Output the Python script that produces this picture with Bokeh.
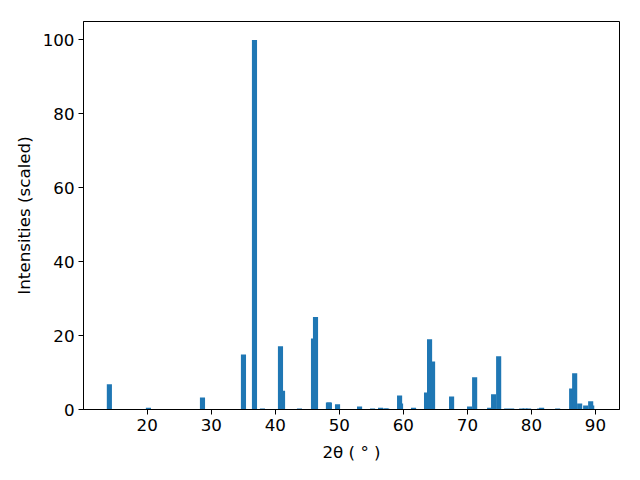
from bokeh.plotting import figure
from bokeh.models import Range1d, FixedTicker
from bokeh.embed import file_html
from bokeh.resources import INLINE

two_theta = [14.09, 20.19, 28.63, 35.03, 36.75, 38.0, 40.81, 41.13, 43.78,
             45.97, 46.28, 48.3, 48.45, 49.72, 53.16, 55.19, 56.44, 57.22,
             57.4, 59.41, 59.56, 61.59, 63.62, 64.09, 64.56, 67.53, 70.34,
             71.13, 73.47, 74.09, 74.88, 76.13, 76.91, 78.47, 79.0, 79.56,
             81.28, 81.59, 84.09, 86.28, 86.75, 87.53, 88.47, 89.25, 89.41]
intensity = [6.8, 0.5, 3.25, 14.9, 100.0, 0.3, 17.1, 5.1, 0.3,
             19.2, 25.0, 1.9, 1.9, 1.4, 0.8, 0.3, 0.5, 0.3,
             0.3, 3.8, 1.6, 0.5, 4.6, 19.0, 13.0, 3.5, 0.8,
             8.7, 0.5, 4.1, 14.4, 0.3, 0.3, 0.3, 0.3, 0.3,
             0.3, 0.5, 0.3, 5.7, 9.8, 1.6, 1.1, 2.2, 1.1]
x_ticks = [20, 30, 40, 50, 60, 70, 80, 90]
y_ticks = [0, 20, 40, 60, 80, 100]

p = figure(width=640, height=480, output_backend="svg", toolbar_location=None,
           x_range=Range1d(10.05, 93.75), y_range=Range1d(0, 105),
           frame_width=536, frame_height=388,
           min_border_left=83, min_border_right=21, min_border_top=21,
           min_border_bottom=71)

p.vbar(x=two_theta, top=intensity, bottom=0, width=0.8,
       fill_color="#1f77b4", line_color=None)

p.xgrid.visible = False
p.ygrid.visible = False
p.outline_line_color = "black"
p.outline_line_width = 1
p.background_fill_color = "white"
p.border_fill_color = "white"

p.xaxis.ticker = FixedTicker(ticks=x_ticks)
p.yaxis.ticker = FixedTicker(ticks=y_ticks)
p.xaxis.axis_label = "2θ ( ° )"
p.yaxis.axis_label = "Intensities (scaled)"

for ax in (p.xaxis[0], p.yaxis[0]):
    ax.axis_line_color = "black"
    ax.axis_line_width = 1
    ax.major_tick_line_color = "black"
    ax.major_tick_line_width = 1
    ax.major_tick_out = 5
    ax.major_tick_in = 0
    ax.minor_tick_line_color = None
    ax.major_label_text_font = "DejaVu Sans"
    ax.major_label_text_font_size = "16.7px"
    ax.major_label_text_color = "black"
    ax.axis_label_text_font = "DejaVu Sans"
    ax.axis_label_text_font_size = "16.7px"
    ax.axis_label_text_font_style = "normal"
    ax.axis_label_text_color = "black"
    ax.major_label_standoff = 4
    ax.axis_label_standoff = 6

p.xaxis[0].axis_label_standoff = 8

open("out.html", "w").write(file_html(p, INLINE))
